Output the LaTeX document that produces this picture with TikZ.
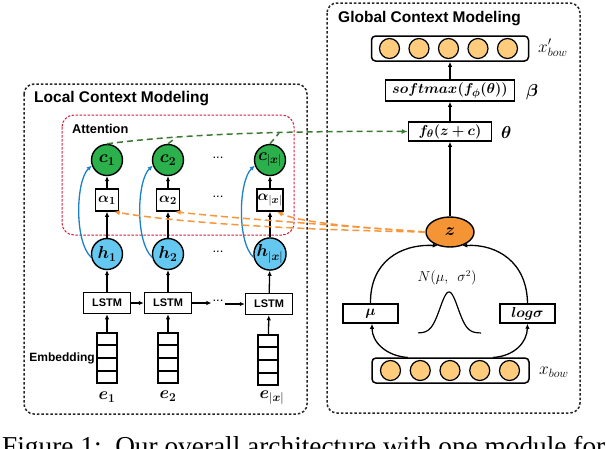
\documentclass[tikz,border=0pt]{standalone}
\usepackage{amsmath}
\usepackage{bm}
\usepackage{fontspec}
\setmainfont{Liberation Serif}
\newfontfamily\sansf{Liberation Sans}
\usetikzlibrary{arrows.meta,shapes.geometric,calc}
\definecolor{cgreen}{RGB}{43,176,76}
\definecolor{hblue}{RGB}{100,200,240}
\definecolor{barrow}{RGB}{28,129,200}
\definecolor{zorange}{RGB}{244,148,52}
\definecolor{bowfill}{RGB}{254,204,124}
\definecolor{gdashc}{RGB}{60,122,52}
\definecolor{odashc}{RGB}{247,150,60}
\definecolor{attred}{RGB}{205,32,60}
\tikzset{
  outerbox/.style={draw=black!85, line width=1.5pt, dash pattern=on 2.5pt off 2pt, rounded corners=10pt},
  attbox/.style={draw=attred, line width=1pt, dash pattern=on 2.5pt off 1.5pt, rounded corners=12pt},
  titlef/.style={font=\sansf\bfseries\fontsize{15.5}{18}\selectfont, inner sep=0},
  mlab/.style={font=\fontsize{17}{19}\selectfont},
  cnode/.style={circle, draw, line width=1.4pt, fill=cgreen, minimum size=31pt, inner sep=0, mlab},
  hnode/.style={circle, draw, line width=1.4pt, fill=hblue, minimum size=31pt, inner sep=0, mlab},
  abox/.style={draw, line width=1.5pt, fill=white, minimum width=23pt, minimum height=22pt, inner sep=0.5pt, font=\fontsize{15}{17}\selectfont},
  lbox/.style={draw, line width=1.5pt, minimum width=47pt, minimum height=21pt, inner sep=0, font=\sansf\bfseries\fontsize{11}{13}\selectfont},
  emb/.style={draw, line width=1.5pt, minimum width=20pt, minimum height=50pt, inner sep=0},
  dotsn/.style={inner sep=1pt, font=\sansf\fontsize{13}{14}\selectfont},
  arr/.style={-{Latex[length=5pt,width=4.5pt]}, line width=1.3pt},
  barr/.style={-{Latex[length=5pt,width=4.5pt]}, line width=1.3pt, draw=barrow},
  gdash/.style={line width=1.5pt, draw=gdashc, dash pattern=on 6pt off 4pt},
  odash/.style={-{Latex[length=6pt,width=5pt]}, line width=1.5pt, draw=odashc, dash pattern=on 7pt off 4pt},
  gbox/.style={draw, line width=1.5pt, inner sep=0, font=\fontsize{15}{17}\selectfont},
  bowbox/.style={draw, line width=1.5pt, rounded corners=4pt, minimum width=157pt, minimum height=25pt, inner sep=0},
  bowc/.style={circle, draw, line width=1.2pt, fill=bowfill, minimum size=20pt, inner sep=0},
  sidelab/.style={inner sep=0, font=\fontsize{17}{19}\selectfont},
}
\begin{document}
\begin{tikzpicture}[x=1pt,y=-1pt]
\useasboundingbox (0,0) rectangle (606,448);
\clip (0,0) rectangle (606,448);

% outer boxes
\draw[outerbox] (24,84) rectangle (307,414);
\draw[outerbox] (327,3) rectangle (580,413);
\node[titlef, anchor=west] (lt) at (34,99) {Local Context Modeling};
\node[titlef, anchor=west] (gt) at (338,19) {Global Context Modeling};

% attention box
\draw[attbox] (62,115) rectangle (294,235);
\node[anchor=west, inner sep=0, font=\sansf\bfseries\fontsize{12.8}{15}\selectfont] (att) at (72,129) {Attention};

% local columns
\node[cnode] (c1) at (107,160) {$\bm{c}_{\bm{1}}$};
\node[cnode] (c2) at (168,160) {$\bm{c}_{\bm{2}}$};
\node[cnode] (c3) at (270,160) {$\bm{c}_{|\bm{x}|}$};
\node[abox] (a1) at (107,200) {$\bm{\alpha}_{\bm{1}}$};
\node[abox] (a2) at (168,200) {$\bm{\alpha}_{\bm{2}}$};
\node[abox] (a3) at (270,200) {$\bm{\alpha}_{|\bm{x}|}$};
\node[hnode] (h1) at (107,254) {$\bm{h}_{\bm{1}}$};
\node[hnode] (h2) at (168,254) {$\bm{h}_{\bm{2}}$};
\node[hnode] (h3) at (270,254) {$\bm{h}_{|\bm{x}|}$};
\node[lbox] (l1) at (107,303) {LSTM};
\node[lbox] (l2) at (168,303) {LSTM};
\node[lbox] (l3) at (269,304) {LSTM};
\node[emb] (m1) at (107,358) {};
\node[emb] (m2) at (168,358) {};
\node[emb] (m3) at (268,360) {};
\foreach \m in {m1,m2,m3}{
  \foreach \f in {0.25,0.5,0.75}{
    \draw[line width=1.3pt] ($(\m.north west)!\f!(\m.south west)$) -- ($(\m.north east)!\f!(\m.south east)$);
  }
}
\node[mlab, inner sep=0] (e1) at (107,397) {$\bm{e}_{\bm{1}}$};
\node[mlab, inner sep=0] (e2) at (168,396) {$\bm{e}_{\bm{2}}$};
\node[mlab, inner sep=0] (e3) at (272,398) {$\bm{e}_{|\bm{x}|}$};
\node[anchor=east, inner sep=0, font=\sansf\bfseries\fontsize{12}{14}\selectfont] (embl) at (95,358) {Embedding};

\node[dotsn] (d1) at (218,158) {...};
\node[dotsn] (d2) at (218,197) {...};
\node[dotsn] (d3) at (218,252) {...};
\node[dotsn] (d4) at (218,301) {...};

% vertical arrows
\foreach \i in {1,2,3}{
  \draw[arr] (m\i) -- (l\i);
  \draw[arr] (l\i) -- (h\i);
  \draw[arr] (h\i) -- (a\i);
  \draw[arr] (a\i) -- (c\i);
  \draw[barr] (h\i.192) .. controls +(-17,-16) and +(-16,15) .. (c\i.200);
}
\draw[arr] (l1) -- (l2);
\draw[arr] (l2.east) -- (d4.west |- l2.east);
\draw[arr] (d4.east |- l3.west) -- (l3.west);

% global part
\node[bowbox] (xbp) at (450,48.5) {};
\foreach \k in {1,...,5}{
  \node[bowc] (tc\k) at ({389.5+29.5*(\k-1)},48.5) {};
}
\node[sidelab, anchor=west] (xbpl) at (538,48) {$x'_{bow}$};
\node[gbox, minimum width=129pt, minimum height=21pt] (sm) at (450,90.5) {$\bm{softmax(f_{\phi}(\theta))}$};
\node[sidelab, anchor=west] (betal) at (526,92) {$\bm{\beta}$};
\node[gbox, minimum width=83pt, minimum height=19pt] (fb) at (450,131.5) {$\bm{f_{\theta}(z+c)}$};
\node[sidelab, anchor=west] (thetal) at (501,132) {$\bm{\theta}$};
\node[ellipse, draw, line width=1.4pt, fill=zorange, minimum width=48pt, minimum height=30pt, inner sep=0, mlab] (z) at (450,232) {$\bm{z}$};
\node[gbox, minimum width=55pt, minimum height=19pt] (mu) at (370.5,313.5) {$\bm{\mu}$};
\node[gbox, minimum width=55pt, minimum height=19pt] (ls) at (527.5,313.5) {$\bm{log\sigma}$};
\node[bowbox] (xb) at (450.5,370.5) {};
\foreach \k in {1,...,5}{
  \node[bowc] (bc\k) at ({390.5+29.75*(\k-1)},370.5) {};
}
\node[sidelab, anchor=west] (xbl) at (539,372) {$x_{bow}$};
\node[inner sep=0, font=\fontsize{13.5}{15}\selectfont] (nl) at (447,278) {$N(\mu,\ \ \sigma^2)$};

\draw[arr] (z) -- (fb);
\draw[arr] (fb) -- (sm);
\draw[arr] (sm) -- (xbp);

% arcs
\coordinate (xbL) at (408,357.5);
\coordinate (xbR) at (493,357.5);
\draw[arr] (xbL) .. controls (386,356) and (372,342) .. (mu.south -| 372,0);
\draw[arr] (xbR) .. controls (515,356) and (527,342) .. (ls.south);
\draw[arr] (mu.north) .. controls (370,262) and (400,244) .. (z.228);
\draw[arr] (ls.north) .. controls (527,262) and (497,244) .. (z.312);

% gaussian
\draw[line width=1.2pt] plot[domain=418:481, samples=70, smooth] (\x, {333-41*exp(-0.5*((\x-449)/9)*((\x-449)/9))});

% green dashed
\draw[gdash, -{Latex[length=6pt,width=5pt]}] (c1.north) .. controls (190,133) and (300,131) .. (fb.west);
\coordinate (g2) at (176,137.5);
\coordinate (g3) at (279,133.2);
\draw[gdash] (c2.north) -- (g2);
\draw[gdash] (c3.north) -- (g3);

% orange dashed
\draw[odash] (z.west) .. controls (300,230) and (180,223) .. (a1.-60);
\draw[odash] (z.west) .. controls (330,225) and (230,218) .. (a2.-60);
\draw[odash] (z.west) .. controls (350,227) and (300,222) .. (a3.-60);

% caption
\node[anchor=base west, inner sep=0] (cap) at (2,455) {\resizebox{603pt}{!}{Figure 1:\ \ Our overall architecture with one module for}};
\end{tikzpicture}
\end{document}
